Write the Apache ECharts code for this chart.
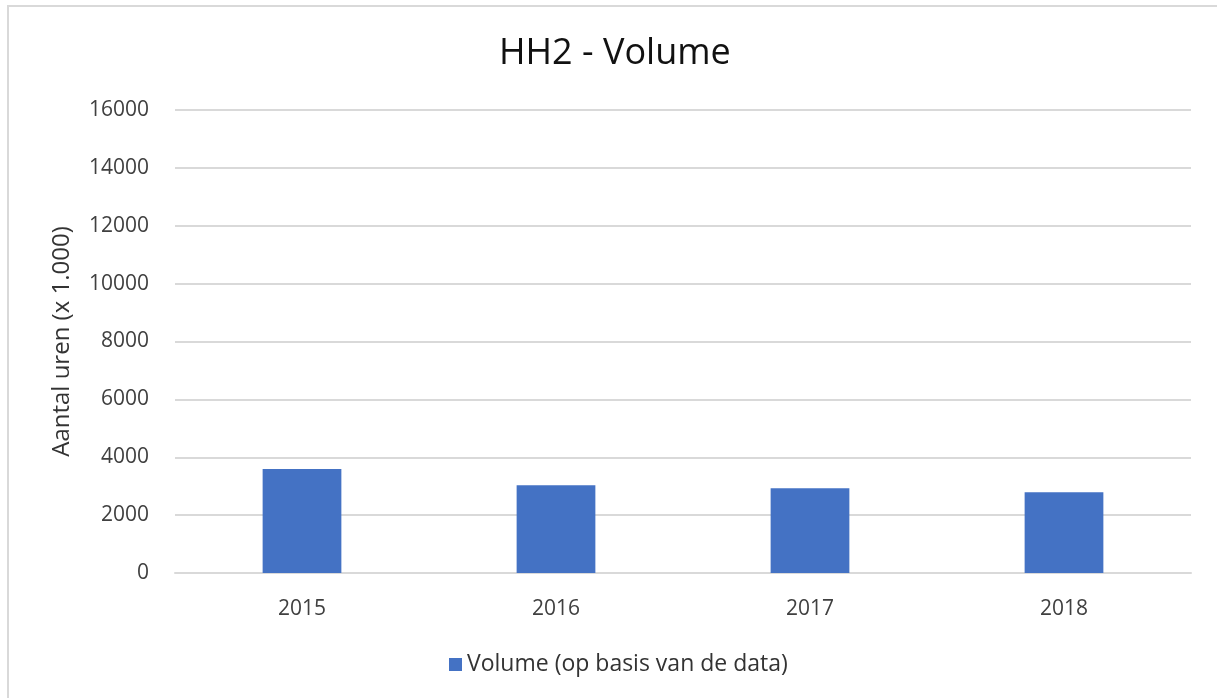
<!DOCTYPE html>
<html>
<head>
<meta charset="utf-8">
<script src="https://cdn.jsdelivr.net/npm/echarts@6/dist/echarts.min.js"></script>
<style>
  html, body { margin: 0; padding: 0; background: #fff; }
  #frame { position: absolute; left: 7px; top: 5px; width: 1210px; height: 693px; border-left: 2px solid #d9d9d9; border-top: 2px solid #d9d9d9; box-sizing: border-box; }
  #chart { position: absolute; left: 0; top: 0; width: 1217px; height: 698px; }
</style>
</head>
<body>
<div id="frame"></div>
<div id="chart"></div>
<script>
const categories = ['2015', '2016', '2017', '2018'];
const volumeValues = [3590, 3030, 2930, 2790];
const seriesName = 'Volume (op basis van de data)';
const titleText = 'HH2 - Volume';
const yAxisName = 'Aantal uren (x 1.000)';

const font = '"Open Sans", "Noto Sans", sans-serif';
const chart = echarts.init(document.getElementById('chart'), null, { renderer: 'canvas' });
chart.setOption({
  backgroundColor: 'transparent',
  animation: false,
  title: {
    text: titleText,
    left: 494,
    top: 31,
    textStyle: { fontFamily: font, fontSize: 36, fontWeight: 'normal', color: '#111' }
  },
  legend: {
    data: [seriesName],
    bottom: 17,
    left: 444,
    icon: 'rect',
    itemWidth: 13,
    itemHeight: 13,
    itemGap: 6,
    textStyle: { fontFamily: font, fontSize: 23, color: '#333' }
  },
  grid: { left: 175, right: 26, top: 110, bottom: 125, containLabel: false },
  xAxis: {
    type: 'category',
    data: categories,
    axisTick: { show: false },
    axisLine: { lineStyle: { color: '#d9d9d9', width: 2 } },
    axisLabel: { fontFamily: font, fontSize: 21, color: '#404040', margin: 26 }
  },
  yAxis: {
    type: 'value',
    min: 0,
    max: 16000,
    interval: 2000,
    name: yAxisName,
    nameLocation: 'middle',
    nameGap: 101,
    nameTextStyle: { fontFamily: font, fontSize: 24, color: '#333' },
    axisLine: { show: false },
    axisTick: { show: false },
    axisLabel: { fontFamily: font, fontSize: 21, color: '#404040', margin: 26, formatter: function (v) { return String(v); } },
    splitLine: { lineStyle: { color: '#d9d9d9', width: 2 } }
  },
  series: [{
    name: seriesName,
    type: 'bar',
    data: volumeValues,
    barWidth: '31%',
    itemStyle: { color: '#4472c4' }
  }]
});
</script>
</body>
</html>
